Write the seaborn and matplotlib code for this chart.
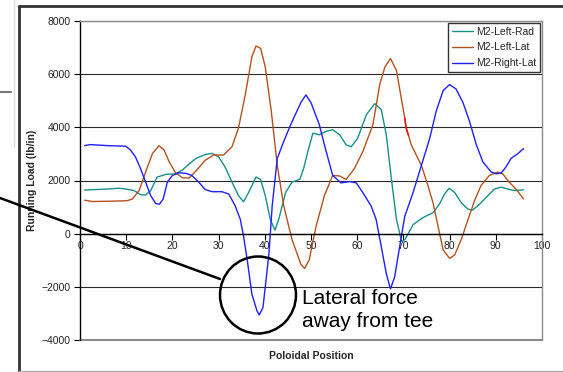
import numpy as np
import pandas as pd
import matplotlib
matplotlib.use("Agg")
import matplotlib.pyplot as plt
from matplotlib.lines import Line2D
from matplotlib.patches import Ellipse
import seaborn as sns

# values
SERIES = ["M2-Left-Rad", "M2-Left-Lat", "M2-Right-Lat"]
COLORS = {"M2-Left-Rad": "#17908a", "M2-Left-Lat": "#b4521e", "M2-Right-Lat": "#1f1fff"}

left_rad_x = [1, 3.3, 6.2, 8.4, 9.9, 11.7, 13.1, 14.2, 15.3, 16.7, 18.6, 20.7, 22.2, 23.6,
              25.3, 27.2, 28.6, 30, 31.4, 32.9, 34.3, 35.4, 36.5, 38.1, 39.1, 40.1, 41.2,
              42.2, 43, 44.5, 45.9, 47.6, 48.4, 49.3, 50.4, 51.8, 53.3, 54.7, 56.2, 57.6,
              58.7, 60.1, 62, 63.8, 65.2, 66.3, 67.4, 68.5, 69.6, 70.3, 71.2, 72.1, 74.2,
              76.4, 77.8, 78.9, 79.9, 81.1, 82.5, 84, 85, 86.5, 88.3, 89.7, 91.2, 92.6, 94, 96]
left_rad_y = [1640, 1660, 1680, 1710, 1680, 1620, 1470, 1450, 1620, 2130, 2230, 2250, 2400, 2620,
              2850, 2980, 3020, 2890, 2510, 1940, 1430, 1200, 1550, 2130, 2040, 1430, 535,
              130, 535, 1550, 1940, 2050, 2450, 3080, 3780, 3720, 3850, 3910, 3720, 3340,
              3270, 3590, 4480, 4890, 4670, 3720, 2060, 535, -290, -230, 50, 340, 600,
              790, 1110, 1490, 1710, 1550, 1170, 920, 890, 1110, 1430, 1680, 1750, 1680, 1620, 1650]

left_lat_x = [1, 2.6, 6.2, 10.2, 11.3, 12.8, 14.2, 15.7, 17.1, 18.2, 19.3, 20.7, 22.2, 23.6,
              24.9, 27.1, 28.9, 31.1, 32.9, 34.3, 35.8, 37.2, 38.1, 39.1, 40.1, 41.4, 42.7,
              44.1, 45.9, 46.7, 47.8, 48.6, 49.6, 51.1, 52.9, 54.7, 56.2, 57.6, 59.4, 61.2,
              63.4, 64.9, 66, 67.2, 68.5, 69.9, 70.3, 70.6, 71.1, 71.7, 73.9, 75.3, 76.4,
              77.5, 78.6, 80, 81.1, 82.5, 84, 85.4, 86.8, 88.6, 90.4, 91.5, 92.9, 94.5, 96]
left_lat_y = [1260, 1210, 1220, 1240, 1300, 1620, 2320, 3020, 3310, 3150, 2700, 2290, 2100, 2090,
              2320, 2760, 2960, 2960, 3270, 3970, 5250, 6650, 7060, 6970, 6270, 4610, 2570,
              1045, -230, -610, -1150, -1310, -990, 280, 1430, 2190, 2170, 2040, 2450, 3080,
              4100, 5630, 6270, 6590, 6140, 4740, 4350, 3970, 3700, 3340, 2570, 1810, 1170,
              280, -610, -930, -800, -230, 535, 1240, 1810, 2190, 2320, 2250, 1940, 1650, 1310]

right_lat_x = [1, 2.2, 6.2, 9.9, 10.9, 12, 13.1, 14.2, 15.3, 16.4, 17.2, 18, 18.9, 20, 21.4,
               22.9, 24.2, 25.7, 27.1, 28.6, 30.7, 32.2, 33.6, 34.7, 35.4, 36.2, 37.2, 38.3,
               38.8, 39.6, 40.1, 40.9, 41.6, 42.7, 44.1, 45.6, 47.8, 48.9, 50, 51.8, 53.3,
               54.7, 56.5, 58.3, 59.8, 61.2, 63, 64.1, 65.2, 66.3, 67.2, 68.1, 69.2, 70.3,
               71.2, 72.1, 73.9, 75.7, 77.1, 78.6, 80, 81.4, 82.9, 84.3, 85.8, 87.2, 89,
               90.1, 91.2, 92.2, 93.3, 94.7, 96]
right_lat_y = [3312, 3350, 3310, 3290, 3150, 2890, 2450, 1940, 1430, 1130, 1110, 1300, 1940, 2190, 2290,
               2270, 2190, 1940, 1660, 1580, 1580, 1490, 1045, 535, -100, -990, -2270, -2900,
               -3060, -2780, -2010, -740, 1045, 2830, 3470, 4100, 4930, 5220, 4930, 4100, 3080,
               2190, 1910, 1960, 1910, 1550, 1045, 535, -480, -1500, -2080, -1630, -480, 660,
               1100, 1550, 2570, 3590, 4610, 5380, 5610, 5440, 4930, 4230, 3340, 2700, 2320,
               2250, 2290, 2510, 2830, 3000, 3200]

x_ticks = list(range(0, 101, 10))
y_ticks = list(range(-4000, 8001, 2000))

sns.set_theme(style="white")
plt.rcParams["font.family"] = ["Liberation Sans", "DejaVu Sans"]

df = pd.concat([
    pd.DataFrame({"x": left_rad_x, "y": left_rad_y, "series": SERIES[0]}),
    pd.DataFrame({"x": left_lat_x, "y": left_lat_y, "series": SERIES[1]}),
    pd.DataFrame({"x": right_lat_x, "y": right_lat_y, "series": SERIES[2]}),
], ignore_index=True)

W, H = 563, 372
fig = plt.figure(figsize=(W / 100, H / 100), dpi=100)
ax = fig.add_axes([80 / W, 1 - 340 / H, 462 / W, 319 / H])

sns.lineplot(data=df, x="x", y="y", hue="series", hue_order=SERIES, palette=COLORS,
             estimator=None, sort=False, linewidth=1.0, legend=False, ax=ax)

# short red stretch on the Left-Lat curve, as in the original
red = df[(df.series == SERIES[1]) & (df.x >= 70.3) & (df.x <= 71.1)]
ax.plot(red.x, red.y, color="red", lw=1.0)

ax.set_xlim(0, 100)
ax.set_ylim(-4000, 8000)
ax.set_xticks(x_ticks)
ax.set_yticks(y_ticks)
ax.yaxis.grid(True, color="#2a2a2a", lw=0.8)
ax.xaxis.grid(False)
ax.axhline(-4000, color="#8a8a8a", lw=1.5, clip_on=False)

ax.spines["bottom"].set_position(("data", 0))
ax.spines["bottom"].set_color("black")
ax.spines["left"].set_color("black")
for s in ("top", "right"):
    ax.spines[s].set_color("#8a8a8a")
for s in ax.spines.values():
    s.set_linewidth(1.0)

ax.tick_params(axis="both", bottom=True, left=True, direction="out", length=4,
               width=0.8, color="black", labelsize=7.5, labelcolor="#222222")
ax.tick_params(axis="x", pad=1)
ax.tick_params(axis="y", pad=3)

ax.set_xlabel("Poloidal Position", fontsize=7.5, fontweight="bold")
ax.set_ylabel("Running Load (lb/in)", fontsize=7.5, fontweight="bold")
ax.xaxis.set_label_coords(0.5, -0.034)
ax.yaxis.set_label_coords(-0.093, 0.5)

handles = [Line2D([], [], color=COLORS[s], lw=1.0) for s in SERIES]
leg = ax.legend(handles, SERIES, loc="upper right", bbox_to_anchor=(1.0, 1.0),
                frameon=True, fancybox=False, edgecolor="black", fontsize=7.5,
                handlelength=2.0, handletextpad=0.3, borderpad=0.35,
                labelspacing=0.55, borderaxespad=0.2)
leg.get_frame().set_linewidth(1.0)
leg.get_frame().set_facecolor("white")

# overlay in pixel coordinates for the slide frame and the callout
ov = fig.add_axes([0, 0, 1, 1], facecolor="none")
ov.set_zorder(5)
ov.set_xlim(0, W)
ov.set_ylim(H, 0)
ov.axis("off")
ov.plot([19, 19], [6, H], color="#333333", lw=2)
ov.plot([19, W], [6, 6], color="#333333", lw=2)
ov.plot([19, W], [371, 371], color="#aaaaaa", lw=1)
ov.plot([14, 14], [0, 147], color="#dddddd", lw=1)
ov.plot([0, 11], [92, 92], color="#777777", lw=1.5)
ov.plot([0, 220], [198, 279], color="black", lw=1.8)
ov.add_patch(Ellipse((258, 295), 76, 77, fill=False, ec="black", lw=1.8))
ov.text(302, 289, "Lateral force\naway from tee", fontsize=15, ha="left", va="top",
        linespacing=1.25, color="black")

fig.savefig("out.png", dpi=100)
